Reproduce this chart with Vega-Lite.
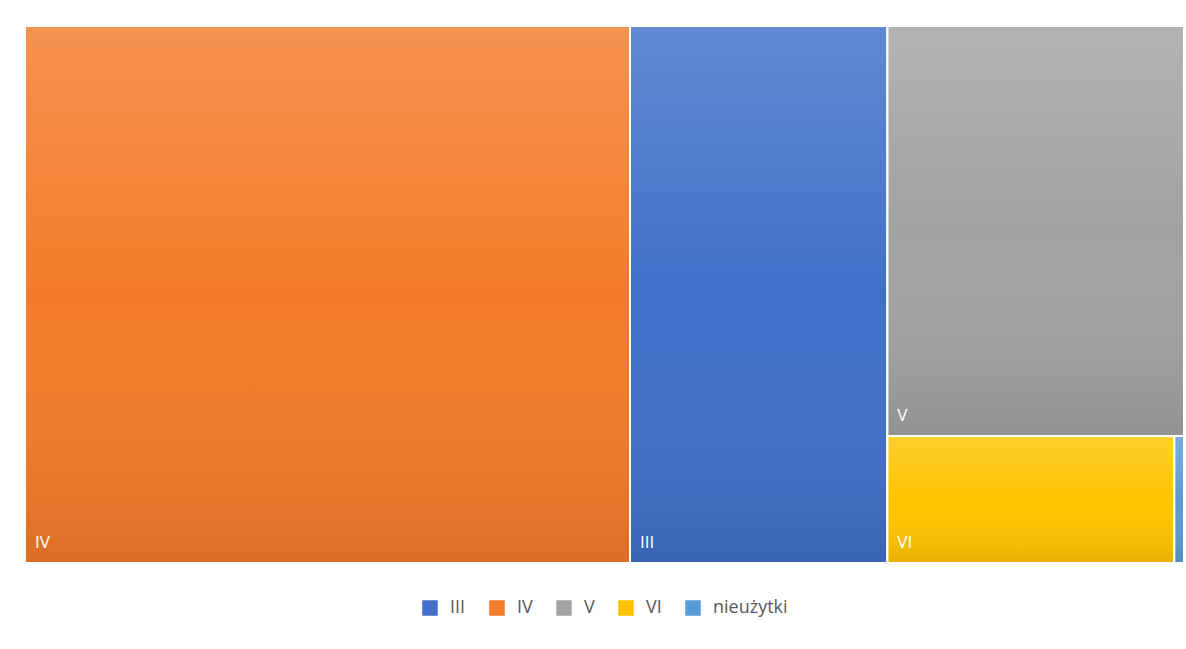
{
  "$schema": "https://vega.github.io/schema/vega-lite/v6.json",
  "autosize": "none",
  "width": 1159,
  "height": 537,
  "padding": {"left": 25, "top": 26, "right": 2, "bottom": 86},
  "background": "white",
  "config": {
    "view": {"stroke": null},
    "font": "Open Sans",
    "legend": {"layout": {"bottom": {"anchor": "middle"}}}
  },
  "data": {
    "values": [
      {"kategoria": "IV", "wartosc": 52.2, "kolumna": 1, "wiersz": 1, "poz": 1},
      {"kategoria": "III", "wartosc": 22.2, "kolumna": 2, "wiersz": 1, "poz": 1},
      {"kategoria": "V", "wartosc": 19.55, "kolumna": 3, "wiersz": 1, "poz": 1},
      {"kategoria": "VI", "wartosc": 5.85, "kolumna": 3, "wiersz": 2, "poz": 1},
      {"kategoria": "nieużytki", "wartosc": 0.2, "kolumna": 3, "wiersz": 2, "poz": 2}
    ]
  },
  "transform": [
    {"joinaggregate": [{"op": "sum", "field": "wartosc", "as": "suma"}]},
    {"joinaggregate": [{"op": "sum", "field": "wartosc", "as": "sumaKol"}], "groupby": ["kolumna"]},
    {"joinaggregate": [{"op": "sum", "field": "wartosc", "as": "sumaWiersz"}], "groupby": ["kolumna", "wiersz"]},
    {"window": [{"op": "sum", "field": "wartosc", "as": "kumAll"}], "sort": [{"field": "kolumna"}, {"field": "wiersz"}, {"field": "poz"}]},
    {"window": [{"op": "sum", "field": "wartosc", "as": "kumKol"}], "groupby": ["kolumna"], "sort": [{"field": "wiersz"}, {"field": "poz"}]},
    {"window": [{"op": "sum", "field": "wartosc", "as": "kumWiersz"}], "groupby": ["kolumna", "wiersz"], "sort": [{"field": "poz"}]},
    {"calculate": "datum.kumAll - datum.wartosc", "as": "przedAll"},
    {"calculate": "datum.kumKol - datum.wartosc", "as": "przedKol"},
    {"joinaggregate": [{"op": "min", "field": "przedAll", "as": "kolX0"}], "groupby": ["kolumna"]},
    {"joinaggregate": [{"op": "min", "field": "przedKol", "as": "wierszY0"}], "groupby": ["kolumna", "wiersz"]},
    {"calculate": "datum.kolX0 + (datum.kumWiersz - datum.wartosc) / datum.sumaWiersz * datum.sumaKol", "as": "x0"},
    {"calculate": "datum.kolX0 + datum.kumWiersz / datum.sumaWiersz * datum.sumaKol", "as": "x1"},
    {"calculate": "datum.wierszY0 / datum.sumaKol", "as": "y0"},
    {"calculate": "(datum.wierszY0 + datum.sumaWiersz) / datum.sumaKol", "as": "y1"}
  ],
  "encoding": {
    "x": {"field": "x0", "type": "quantitative", "scale": {"domain": [0, 100], "nice": false, "zero": false}, "axis": null},
    "y": {"field": "y0", "type": "quantitative", "scale": {"domain": [0, 1], "nice": false, "reverse": true}, "axis": null}
  },
  "layer": [
    {
      "mark": {"type": "rect"},
      "encoding": {
        "x2": {"field": "x1"},
        "y2": {"field": "y1"},
        "color": {
          "field": "kategoria",
          "type": "nominal",
          "scale": {
            "domain": ["III", "IV", "V", "VI", "nieużytki"],
            "range": ["#4070C9", "#F47B29", "#A2A2A2", "#FFC400", "#5B9BD5"]
          },
          "legend": {
            "title": null,
            "orient": "bottom",
            "direction": "horizontal",
            "offset": 36,
            "symbolType": "square",
            "symbolSize": 240,
            "symbolStrokeWidth": 0,
            "symbolOpacity": 1,
            "labelFontSize": 18,
            "labelColor": "#595959",
            "labelFont": "Open Sans",
            "columnPadding": 22,
            "symbolOffset": 0,
            "labelOffset": 11
          }
        }
      }
    },
    {
      "mark": {
        "type": "rect",
        "stroke": "white",
        "strokeWidth": 2,
        "fill": {
          "gradient": "linear",
          "x1": 0, "y1": 0, "x2": 0, "y2": 1,
          "stops": [
            {"offset": 0, "color": "rgba(255,255,255,0.18)"},
            {"offset": 0.5, "color": "rgba(255,255,255,0.0)"},
            {"offset": 1, "color": "rgba(0,0,0,0.1)"}
          ]
        }
      },
      "encoding": {
        "x2": {"field": "x1"},
        "y2": {"field": "y1"}
      }
    },
    {
      "transform": [{"filter": "datum.x1 - datum.x0 > 2"}],
      "mark": {"type": "text", "align": "left", "baseline": "bottom", "dx": 10, "dy": -11, "color": "white", "fontSize": 17, "font": "Open Sans"},
      "encoding": {
        "y": {"field": "y1", "type": "quantitative"},
        "text": {"field": "kategoria", "type": "nominal"}
      }
    }
  ]
}
